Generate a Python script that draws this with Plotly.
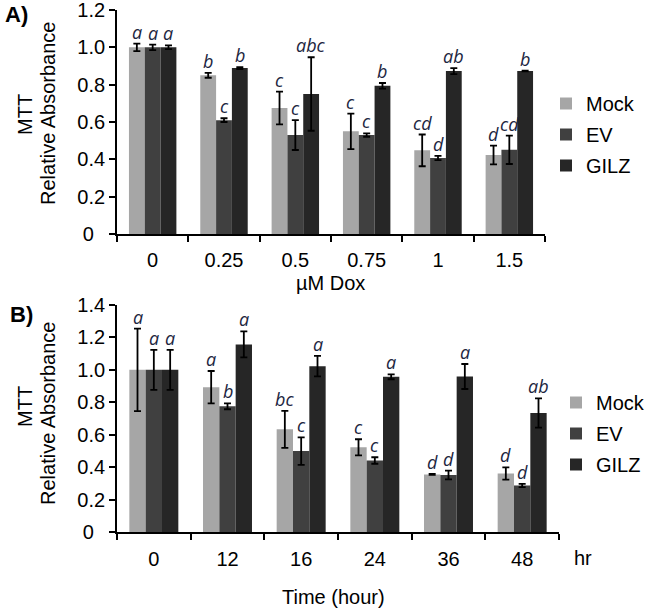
import plotly.graph_objects as go

# ---------------- data ----------------
dox_cats = ["0", "0.25", "0.5", "0.75", "1", "1.5"]
time_cats = ["0", "12", "16", "24", "36", "48"]
series_names = ["Mock", "EV", "GILZ"]

a_mock = [1.00, 0.85, 0.675, 0.55, 0.448, 0.423]
a_mock_err = [0.02, 0.013, 0.088, 0.095, 0.085, 0.05]
a_ev = [1.00, 0.61, 0.53, 0.53, 0.407, 0.451]
a_ev_err = [0.015, 0.01, 0.08, 0.009, 0.011, 0.076]
a_gilz = [1.00, 0.889, 0.75, 0.794, 0.873, 0.873]
a_gilz_err = [0.01, 0.005, 0.197, 0.015, 0.016, 0.002]
a_mock_lbl = ["a", "b", "c", "c", "cd", "d"]
a_ev_lbl = ["a", "c", "c", "c", "d", "cd"]
a_gilz_lbl = ["a", "b", "abc", "b", "ab", "b"]

b_mock = [1.00, 0.893, 0.633, 0.522, 0.355, 0.361]
b_mock_err = [0.254, 0.10, 0.114, 0.05, 0.003, 0.038]
b_ev = [1.00, 0.775, 0.499, 0.441, 0.351, 0.287]
b_ev_err = [0.123, 0.018, 0.085, 0.02, 0.027, 0.01]
b_gilz = [1.00, 1.157, 1.023, 0.957, 0.959, 0.734]
b_gilz_err = [0.123, 0.08, 0.063, 0.015, 0.077, 0.09]
b_mock_lbl = ["a", "a", "bc", "c", "d", "d"]
b_ev_lbl = ["a", "b", "c", "c", "d", "d"]
b_gilz_lbl = ["a", "a", "a", "a", "a", "ab"]

a_ytickvals = [0, 0.2, 0.4, 0.6, 0.8, 1.0, 1.2]
a_yticktext = ["0\u00a0\u00a0", "0.2", "0.4", "0.6", "0.8", "1.0", "1.2"]
b_ytickvals = [0, 0.2, 0.4, 0.6, 0.8, 1.0, 1.2, 1.4]
b_yticktext = ["0\u00a0\u00a0", "0.2", "0.4", "0.6", "0.8", "1.0", "1.2", "1.4"]

colors = ["#a6a6a6", "#404040", "#262626"]
FONT = "Liberation Sans, Arial, sans-serif"
LETTER_FONT = "Open Sans, Noto Sans, sans-serif"
BARGAP = 0.335

fig = go.Figure()

panels = [
    ("x", "y", "legend", dox_cats,
     [(a_mock, a_mock_err, a_mock_lbl), (a_ev, a_ev_err, a_ev_lbl), (a_gilz, a_gilz_err, a_gilz_lbl)]),
    ("x2", "y2", "legend2", time_cats,
     [(b_mock, b_mock_err, b_mock_lbl), (b_ev, b_ev_err, b_ev_lbl), (b_gilz, b_gilz_err, b_gilz_lbl)]),
]

annotations = []
w = (1 - BARGAP) / 3
for xa, ya, leg, cats, series in panels:
    for k, (vals, errs, lbls) in enumerate(series):
        fig.add_trace(go.Bar(
            x=cats, y=vals, name=series_names[k], xaxis=xa, yaxis=ya,
            marker=dict(color=colors[k], line=dict(width=0)),
            error_y=dict(type="data", array=errs, color="black", thickness=1.8, width=3.5),
            legend=leg, legendgroup=leg + series_names[k],
        ))
        for i, (v, e, t) in enumerate(zip(vals, errs, lbls)):
            annotations.append(dict(
                x=i + (k - 1) * w, y=v + e, xref=xa, yref=ya, text="<i>" + t + "</i>",
                showarrow=False, yanchor="bottom", xanchor="center", yshift=-2,
                font=dict(family=LETTER_FONT, size=18, color="#1c2540"),
            ))

W, H = 651, 609
def px(x):
    return min(1.0, max(0.0, x / W))
def py(y):
    return min(1.0, max(0.0, 1 - y / H))

axis_common = dict(showline=True, linecolor="black", linewidth=1.8, ticks="outside",
                   ticklen=6, tickwidth=1.8, tickcolor="black", showgrid=False, zeroline=False,
                   automargin=False, ticklabeloverflow="allow",
                   tickfont=dict(family=FONT, size=20, color="black"))

fig.update_layout(
    width=W, height=H, margin=dict(l=0, r=0, t=0, b=0, autoexpand=False),
    paper_bgcolor="white", plot_bgcolor="white",
    barmode="group", bargap=BARGAP, bargroupgap=0,
    xaxis=dict(domain=[px(117), px(545)], anchor="y", type="category", tickson="boundaries",
               ticklabelstandoff=7, **axis_common),
    yaxis=dict(domain=[py(234), py(10)], anchor="x", range=[0, 1.2],
               tickvals=a_ytickvals, ticktext=a_yticktext, **axis_common),
    xaxis2=dict(domain=[px(117), px(559)], anchor="y2", type="category", tickson="boundaries",
                ticklabelstandoff=8, **axis_common),
    yaxis2=dict(domain=[py(532), py(305)], anchor="x2", range=[0, 1.4],
                tickvals=b_ytickvals, ticktext=b_yticktext, **axis_common),
    legend=dict(x=px(546), y=py(84), xanchor="left", yanchor="top", tracegroupgap=2,
                font=dict(family=FONT, size=20, color="black"), bgcolor="rgba(0,0,0,0)"),
    legend2=dict(x=px(556), y=py(383), xanchor="left", yanchor="top", tracegroupgap=2,
                 font=dict(family=FONT, size=20, color="black"), bgcolor="rgba(0,0,0,0)"),
)

text_font = dict(family=FONT, size=20, color="black")
annotations += [
    dict(x=px(3), y=py(15), xref="paper", yref="paper", text="<b>A)</b>", showarrow=False,
         xanchor="left", yanchor="middle", font=dict(family=FONT, size=22, color="black")),
    dict(x=px(8), y=py(314), xref="paper", yref="paper", text="<b>B)</b>", showarrow=False,
         xanchor="left", yanchor="middle", font=dict(family=FONT, size=22, color="black")),
    dict(x=px(25), y=py(115), xref="paper", yref="paper", text="MTT", textangle=-90,
         showarrow=False, xanchor="center", yanchor="middle", font=text_font),
    dict(x=px(48), y=py(114), xref="paper", yref="paper", text="Relative Absorbance", textangle=-90,
         showarrow=False, xanchor="center", yanchor="middle", font=text_font),
    dict(x=px(25), y=py(407), xref="paper", yref="paper", text="MTT", textangle=-90,
         showarrow=False, xanchor="center", yanchor="middle", font=text_font),
    dict(x=px(48), y=py(414), xref="paper", yref="paper", text="Relative Absorbance", textangle=-90,
         showarrow=False, xanchor="center", yanchor="middle", font=text_font),
    dict(x=px(330), y=py(283), xref="paper", yref="paper", text="µM Dox",
         showarrow=False, xanchor="center", yanchor="middle", font=text_font),
    dict(x=px(333), y=py(597), xref="paper", yref="paper", text="Time (hour)",
         showarrow=False, xanchor="center", yanchor="middle", font=text_font),
    dict(x=px(583), y=py(558), xref="paper", yref="paper", text="hr",
         showarrow=False, xanchor="center", yanchor="middle", font=text_font),
]
fig.update_layout(annotations=annotations)

# remove the default 8px page margin so the figure sits at the window's top-left corner
fig.write_html("out.html", config={"displayModeBar": False},
               post_script="document.body.style.margin='0px';")
